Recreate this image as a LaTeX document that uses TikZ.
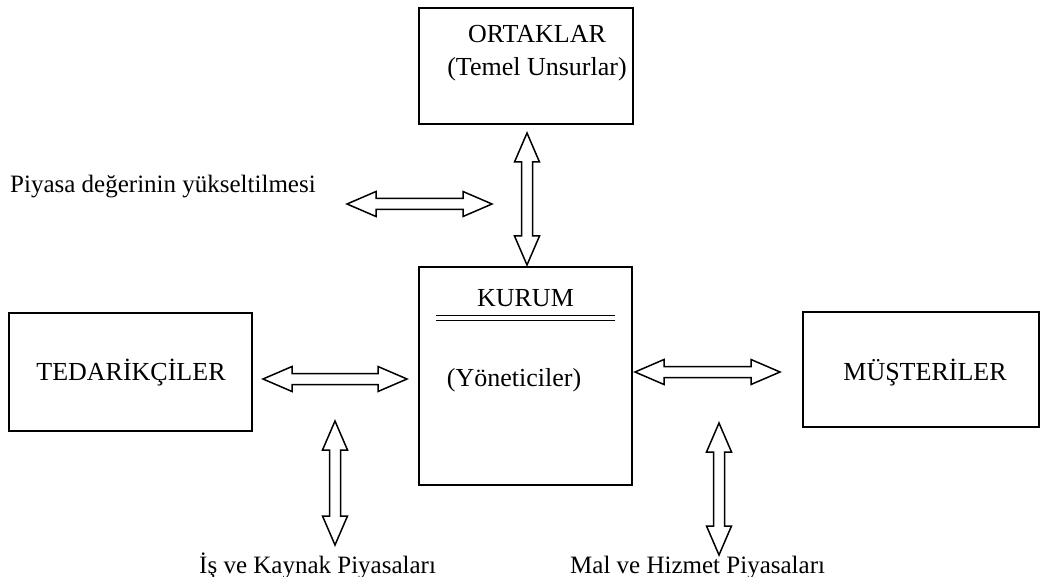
\documentclass[tikz,border=0pt]{standalone}
\usepackage{fontspec}
\setmainfont{Liberation Serif}
\begin{document}
\begin{tikzpicture}[x=1pt,y=-1pt,
  box/.style={draw,line width=1.7pt},
  lbl/.style={font=\fontsize{26}{30}\selectfont,inner sep=0pt,anchor=base},
  side/.style={font=\fontsize{25}{29}\selectfont,inner sep=0pt,anchor=base west},
  barrow/.style={draw,line width=1.5pt,fill=white,line join=miter}]
\useasboundingbox (0,0) rectangle (1043,577);

% double-headed block arrow: centre, angle, half length, name
\newcommand{\dblarrow}[4]{%
  \path[shift={(#1)},rotate=#2] coordinate (#4) (0,0);
  \draw[barrow,shift={(#1)},rotate=#2]
    (-#3,0) -- (-#3+29,12.5) -- (-#3+29,5.5) -- (#3-29,5.5) -- (#3-29,12.5)
    -- (#3,0) -- (#3-29,-12.5) -- (#3-29,-5.5) -- (-#3+29,-5.5)
    -- (-#3+29,-12.5) -- cycle;}

% boxes
\draw[box] (419,8) rectangle (633,124);
\node[lbl] (ortak) at (537,43) {ORTAKLAR};
\node[lbl] (temel) at (537,76) {(Temel Unsurlar)};

\draw[box] (419,267) rectangle (632,485);
\node[lbl] (kurum) at (525.5,306) {KURUM};
\draw[line width=1.6pt] (436,315.5) -- (615,315.5);
\draw[line width=1.6pt] (436,320.5) -- (615,320.5);
\node[lbl] (yon) at (514,386) {(Yöneticiler)};

\draw[box] (9,313) rectangle (252,431);
\node[lbl] (ted) at (131,380) {TEDARİKÇİLER};

\draw[box] (803,312) rectangle (1039,427);
\node[lbl] (mus) at (925,380) {MÜŞTERİLER};

% labels
\node[side] (piy) at (10,193) {Piyasa değerinin yükseltilmesi};
\node[side] (isk) at (199,573) {İş ve Kaynak Piyasaları};
\node[side] (mal) at (570,573) {Mal ve Hizmet Piyasaları};

% block arrows
\dblarrow{419.5,204}{0}{72.5}{a1}
\dblarrow{527,199}{90}{66}{a2}
\dblarrow{335,379}{0}{72}{a3}
\dblarrow{707.5,372}{0}{72.5}{a4}
\dblarrow{335,483}{90}{62}{a5}
\dblarrow{719,489}{90}{66}{a6}
\end{tikzpicture}
\end{document}
